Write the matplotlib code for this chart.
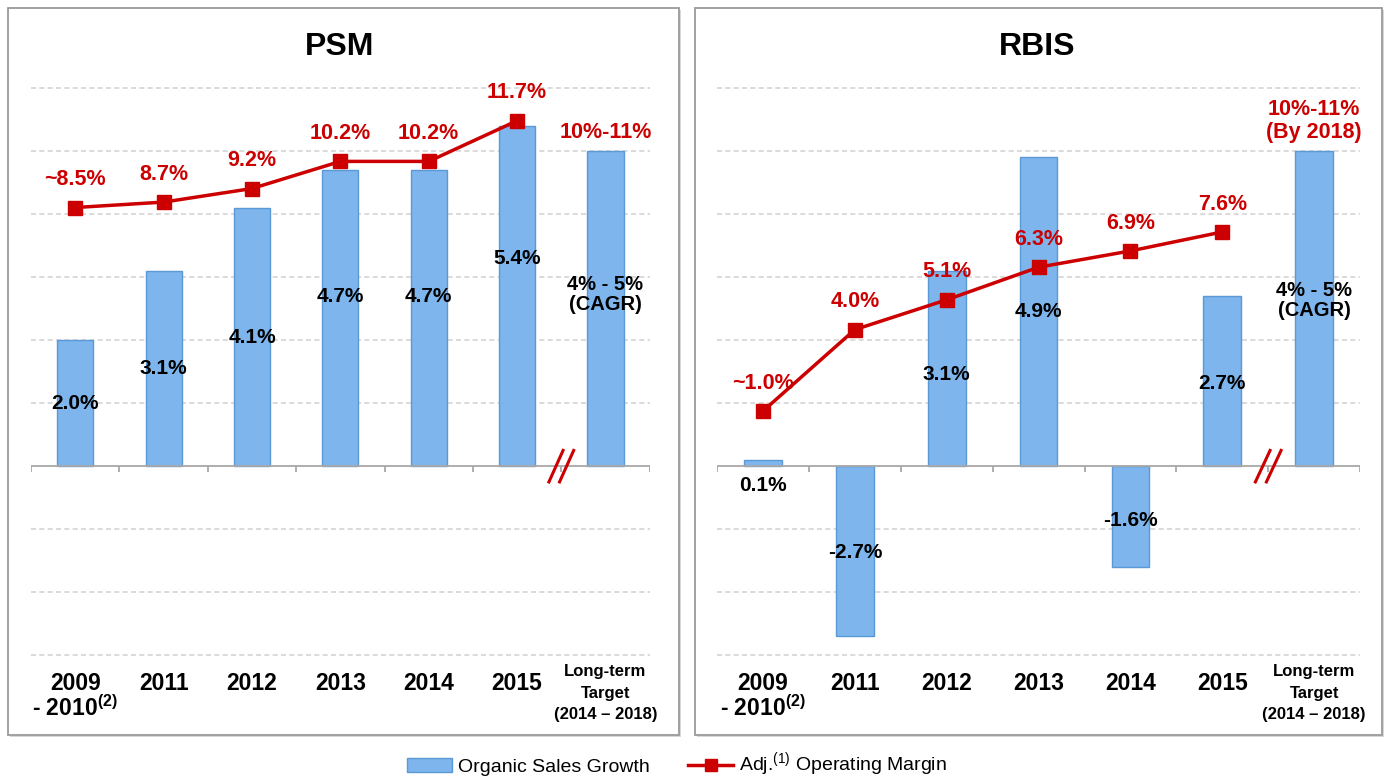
import matplotlib
matplotlib.use("Agg")
import matplotlib.pyplot as plt
from matplotlib.patches import Rectangle, Patch
from matplotlib.lines import Line2D
import numpy as np

plt.rcParams['font.family'] = ['Liberation Sans', 'DejaVu Sans']
plt.rcParams['mathtext.fontset'] = 'custom'
plt.rcParams['mathtext.rm'] = 'Liberation Sans'
plt.rcParams['mathtext.bf'] = 'Liberation Sans:bold'

# data
categories = ['2009\n- 2010$^{\\mathbf{(2)}}$', '2011', '2012', '2013', '2014', '2015']
target_label = 'Long-term\nTarget\n(2014 – 2018)'

psm_growth = [2.0, 3.1, 4.1, 4.7, 4.7, 5.4]
psm_margin = [8.5, 8.7, 9.2, 10.2, 10.2, 11.7]
psm_growth_txt = ['2.0%', '3.1%', '4.1%', '4.7%', '4.7%', '5.4%']
psm_margin_txt = ['~8.5%', '8.7%', '9.2%', '10.2%', '10.2%', '11.7%']
psm_target_growth = 5.0
psm_target_txt = '4% - 5%\n(CAGR)'
psm_target_margin_txt = '10%-11%'

rbis_growth = [0.1, -2.7, 3.1, 4.9, -1.6, 2.7]
rbis_margin = [1.0, 4.0, 5.1, 6.3, 6.9, 7.6]
rbis_growth_txt = ['0.1%', '-2.7%', '3.1%', '4.9%', '-1.6%', '2.7%']
rbis_margin_txt = ['~1.0%', '4.0%', '5.1%', '6.3%', '6.9%', '7.6%']
rbis_target_growth = 5.0
rbis_target_txt = '4% - 5%\n(CAGR)'
rbis_target_margin_txt = '10%-11%\n(By 2018)'

# where the black value labels sit (bar-axis units)
psm_label_y = [1.0, 1.55, 2.05, 2.7, 2.7, 3.3]
rbis_label_y = [-0.3, -1.37, 1.45, 2.45, -0.87, 1.32]

BAR = '#7db5ec'
BAR_EDGE = '#5a98d6'
RED = '#cc0000'


def panel(fig, rect, title, title_x, growth, margin, g_txt, m_txt, lab_y,
          tgt, tgt_txt, tgt_m_txt, tgt_txt_y):
    ax = fig.add_axes(rect)
    n = len(growth)
    x = np.arange(n)
    xt = n
    ax.set_xlim(-0.5, n + 0.5)
    ax.set_ylim(-3, 6)
    for g in range(-3, 7):
        if g != 0:
            ax.axhline(g, color='#d4d4d4', lw=1.2, ls=(0, (3, 2)), zorder=0, clip_on=False)
    ax.bar(x, growth, width=0.41, color=BAR, edgecolor=BAR_EDGE, lw=1, zorder=2)
    ax.bar([xt], [tgt], width=0.41, color=BAR, edgecolor=BAR_EDGE, lw=1, zorder=2)
    ax.axhline(0, color='#a8a8a8', lw=1.3, zorder=3)
    ax.vlines(np.arange(-0.5, n + 1), -0.1, 0, color='#a8a8a8', lw=1.3, zorder=3)
    # break mark
    for dx in (-0.06, 0.06):
        ax.plot([n - 0.5 + dx - 0.08, n - 0.5 + dx + 0.08], [-0.25, 0.25],
                color=RED, lw=2.2, zorder=4, clip_on=False)
    for xi, yl, t in zip(x, lab_y, g_txt):
        ax.text(xi, yl, t, ha='center', va='center', fontsize=15, fontweight='bold', zorder=6)
    ax.text(xt, tgt_txt_y, tgt_txt, ha='center', va='center', fontsize=14.5,
            fontweight='bold', linespacing=1.05, zorder=6)
    ax.axis('off')

    ax2 = ax.twinx()
    ax2.set_ylim(-8.0, 12.9)
    ax2.plot(x, margin, color=RED, lw=2.5, marker='s', ms=10, zorder=5)
    for xi, m, t in zip(x, margin, m_txt):
        ax2.annotate(t, (xi, m), xytext=(0, 20), textcoords='offset points',
                     ha='center', va='center', color=RED, fontsize=15.5, fontweight='bold')
    ax2.annotate(tgt_m_txt, (xt, tgt), xycoords=ax.transData, xytext=(0, 6),
                 textcoords='offset points', ha='center', va='bottom', color=RED,
                 fontsize=15.5, fontweight='bold', linespacing=1.1)
    ax2.set_xlim(-0.5, n + 0.5)
    ax2.axis('off')

    # category labels
    trans = ax.get_xaxis_transform()
    for xi, c in zip(x, categories):
        ax.text(xi, -0.03, c, transform=trans, ha='center', va='top', fontsize=16.5,
                fontweight='bold', linespacing=1.0)
    ax.text(xt, -0.016, target_label, transform=trans, ha='center', va='top', fontsize=12,
            fontweight='bold', linespacing=1.55)
    fig.text(title_x, 0.94, title, ha='center', va='center', fontsize=23, fontweight='bold')
    return ax


fig = plt.figure(figsize=(13.87, 7.8), dpi=100)

# panel frames
for bx, bw in ((0.0058, 0.484), (0.501, 0.4955)):
    fig.patches.append(Rectangle((bx + 0.0015, 0.0555), bw, 0.932, transform=fig.transFigure,
                                 facecolor='#d8d8d8', edgecolor='none', zorder=-10))
    fig.patches.append(Rectangle((bx, 0.058), bw, 0.932, transform=fig.transFigure,
                                 facecolor='white', edgecolor='#9a9a9a', lw=1.3, zorder=-9))

panel(fig, [0.0224, 0.160, 0.446, 0.727], 'PSM', 0.245, psm_growth, psm_margin,
      psm_growth_txt, psm_margin_txt, psm_label_y, psm_target_growth, psm_target_txt,
      psm_target_margin_txt, 2.72)
panel(fig, [0.517, 0.160, 0.4636, 0.727], 'RBIS', 0.748, rbis_growth, rbis_margin,
      rbis_growth_txt, rbis_margin_txt, rbis_label_y, rbis_target_growth, rbis_target_txt,
      rbis_target_margin_txt, 2.63)

handles = [Patch(facecolor=BAR, edgecolor=BAR_EDGE),
           Line2D([0], [0], color=RED, lw=2.5, marker='s', ms=9)]
fig.legend(handles, ['Organic Sales Growth', 'Adj.$^{(1)}$ Operating Margin'],
           loc='center', bbox_to_anchor=(0.488, 0.019), ncol=2, frameon=False,
           fontsize=14, handlelength=2.3, columnspacing=2.0, handletextpad=0.3)

fig.savefig('out.png', dpi=100)
